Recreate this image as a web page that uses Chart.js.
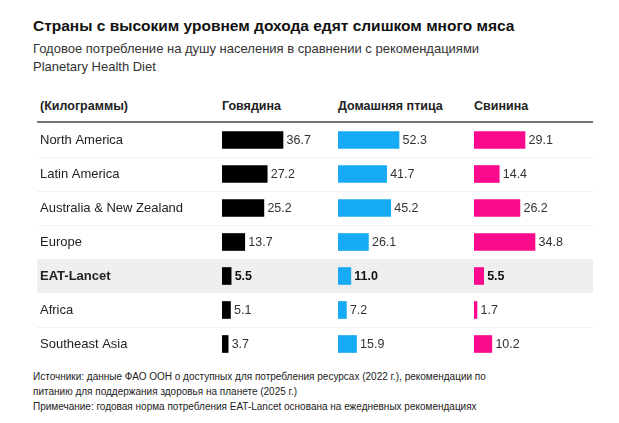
<!DOCTYPE html>
<html><head><meta charset="utf-8">
<script src="https://cdn.jsdelivr.net/npm/chart.js@4"></script>
<style>
html,body{margin:0;padding:0;background:#fff;}
body{width:619px;height:423px;position:relative;overflow:hidden;font-family:"Liberation Sans",Arial,sans-serif;color:#222;}
.t{position:absolute;white-space:nowrap;}
#title{left:33px;top:17px;font-size:15.5px;font-weight:bold;color:#111;}
#sub{left:33px;top:40px;font-size:13px;line-height:18px;color:#333;}
.hd{top:99px;font-size:12.5px;font-weight:bold;color:#222;}
#hline{position:absolute;left:37px;top:121px;width:556px;height:2px;background:#777;}
#foot{left:33px;top:369px;font-size:10px;line-height:15px;color:#222;}
canvas{position:absolute;}
</style></head><body>
<div class="t" id="title">Страны с высоким уровнем дохода едят слишком много мяса</div>
<div class="t" id="sub">Годовое потребление на душу населения в сравнении с рекомендациями<br>Planetary Health Diet</div>
<div class="t hd" id="h0" style="left:40px">(Килограммы)</div>
<div class="t hd" id="h1" style="left:222px">Говядина</div>
<div class="t hd" id="h2" style="left:338px">Домашняя птица</div>
<div class="t hd" id="h3" style="left:474px">Свинина</div>
<div id="hline"></div>
<canvas id="cA" width="556" height="238" style="left:37px;top:123px;"></canvas>
<canvas id="cB" width="128" height="238" style="left:338px;top:123px;"></canvas>
<canvas id="cC" width="119" height="238" style="left:474px;top:123px;"></canvas>
<div class="t" id="foot">Источники: данные ФАО ООН о доступных для потребления ресурсах (2022 г.), рекомендации по<br>питанию для поддержания здоровья на планете (2025 г.)<br>Примечание: годовая норма потребления EAT-Lancet основана на ежедневных рекомендациях</div>
<script>
const regions = ["North America","Latin America","Australia & New Zealand","Europe","EAT-Lancet","Africa","Southeast Asia"];
const beef    = [36.7, 27.2, 25.2, 13.7, 5.5, 5.1, 3.7];
const poultry = [52.3, 41.7, 45.2, 26.1, 11.0, 7.2, 15.9];
const pork    = [29.1, 14.4, 26.2, 34.8, 5.5, 1.7, 10.2];
const highlightIndex = 4;

const FONT = '"Liberation Sans", Arial, sans-serif';
const MAXBAR = 61; // px of the longest bar in each column

const valueLabels = {
  id: 'valueLabels',
  afterDatasetsDraw(chart) {
    const ctx = chart.ctx;
    const meta = chart.getDatasetMeta(0);
    const data = chart.data.datasets[0].data;
    ctx.save();
    ctx.textBaseline = 'middle';
    ctx.textAlign = 'left';
    meta.data.forEach((bar, i) => {
      const hl = i === highlightIndex;
      ctx.font = (hl ? 'bold ' : '') + '12.5px ' + FONT;
      ctx.fillStyle = hl ? '#111' : '#333';
      ctx.fillText(data[i].toFixed(1), bar.x + 3.5, bar.y + 0.5);
    });
    ctx.restore();
  }
};

const rowBackground = {
  id: 'rowBackground',
  beforeDraw(chart) {
    const ctx = chart.ctx;
    const y = chart.scales.y;
    const W = chart.width;
    const step = y.getPixelForValue(1) - y.getPixelForValue(0);
    ctx.save();
    const hy = y.getPixelForValue(highlightIndex);
    ctx.fillStyle = '#efefef';
    ctx.fillRect(0, hy - step / 2, W, step);
    ctx.strokeStyle = '#f2f2f2';
    ctx.lineWidth = 1;
    for (let i = 0; i < regions.length - 1; i++) {
      if (i === highlightIndex || i === highlightIndex - 1) continue;
      const ly = Math.round(y.getPixelForValue(i) + step / 2) + 0.5;
      ctx.beginPath(); ctx.moveTo(0, ly); ctx.lineTo(W, ly); ctx.stroke();
    }
    ctx.restore();
  }
};

function makeChart(id, values, color, withLabels, areaWidth) {
  const maxV = Math.max(...values);
  return new Chart(document.getElementById(id), {
    type: 'bar',
    data: { labels: regions, datasets: [{ data: values, backgroundColor: color, borderWidth: 0, barThickness: 17 }] },
    options: {
      indexAxis: 'y',
      responsive: false,
      animation: false,
      events: [],
      layout: { padding: { left: withLabels ? 3 : 0, right: 0, top: 0, bottom: 0 } },
      plugins: { legend: { display: false }, tooltip: { enabled: false } },
      scales: {
        x: { display: false, min: 0, max: maxV * areaWidth / MAXBAR },
        y: {
          display: withLabels,
          offset: true,
          grid: { display: false, drawBorder: false },
          border: { display: false },
          afterFit: (s) => { if (withLabels) s.width = 182; s.paddingTop = 0; s.paddingBottom = 0; },
          ticks: {
            crossAlign: 'far',
            padding: 0,
            color: '#222',
            font: (c) => ({ family: FONT, size: 13, weight: c.index === highlightIndex ? 'bold' : 'normal' })
          }
        }
      }
    },
    plugins: withLabels ? [rowBackground, valueLabels] : [valueLabels]
  });
}

makeChart('cA', beef, '#000000', true, 556 - 185);
makeChart('cB', poultry, '#17abf5', false, 128);
makeChart('cC', pork, '#fc0a8c', false, 119);
</script>
</body></html>
